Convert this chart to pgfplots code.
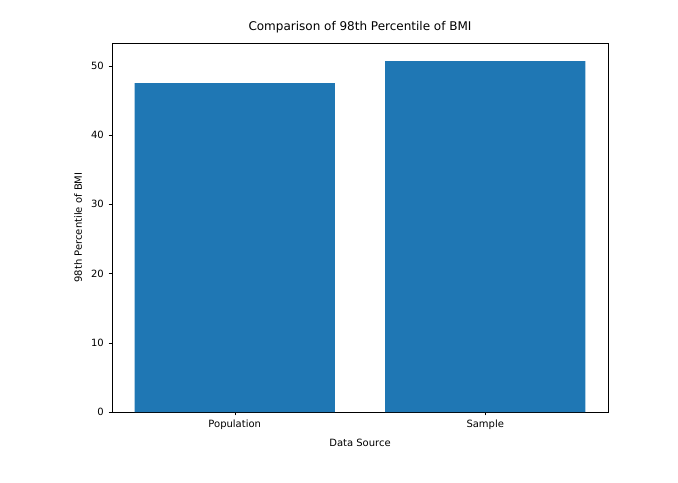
\documentclass[border=0pt]{standalone}
\usepackage{pgfplots}
\pgfplotsset{compat=1.18}
\usepackage{fontspec}
\setmainfont{DejaVu Sans}
\definecolor{mplblue}{HTML}{1F77B4}
\begin{document}
\begin{tikzpicture}
\begin{axis}[
  scale only axis, width=372pt, height=276.75pt,
  xmin=-0.49, xmax=1.49, ymin=0, ymax=53.3,
  xtick={0,1}, xticklabels={Population,Sample},
  ytick={0,10,20,30,40,50},
  tick style={black}, tick align=outside, major tick length=2.6pt,
  xtick pos=bottom, ytick pos=left,
  ticklabel style={font=\fontsize{7.5}{9}\selectfont},
  /pgf/number format/assume math mode=true,
  xlabel={Data Source}, ylabel={98th Percentile of BMI},
  label style={font=\fontsize{7.5}{9}\selectfont},
  title={Comparison of 98th Percentile of BMI},
  title style={font=\fontsize{9}{11}\selectfont, yshift=-2pt},
  axis line style={black, line width=0.6pt},
]
\addplot[ybar, bar width=0.8, bar shift=0pt, fill=mplblue, draw=none] coordinates {(0,47.5) (1,50.7)};
\end{axis}
\path (current axis.south west) ++(-84pt,-52.5pt) (current axis.north east) ++(52.5pt,32.25pt);
\path[use as bounding box] ([xshift=-84pt,yshift=-52.5pt]current axis.south west) rectangle ([xshift=52.5pt,yshift=32.25pt]current axis.north east);
\end{tikzpicture}
\end{document}
